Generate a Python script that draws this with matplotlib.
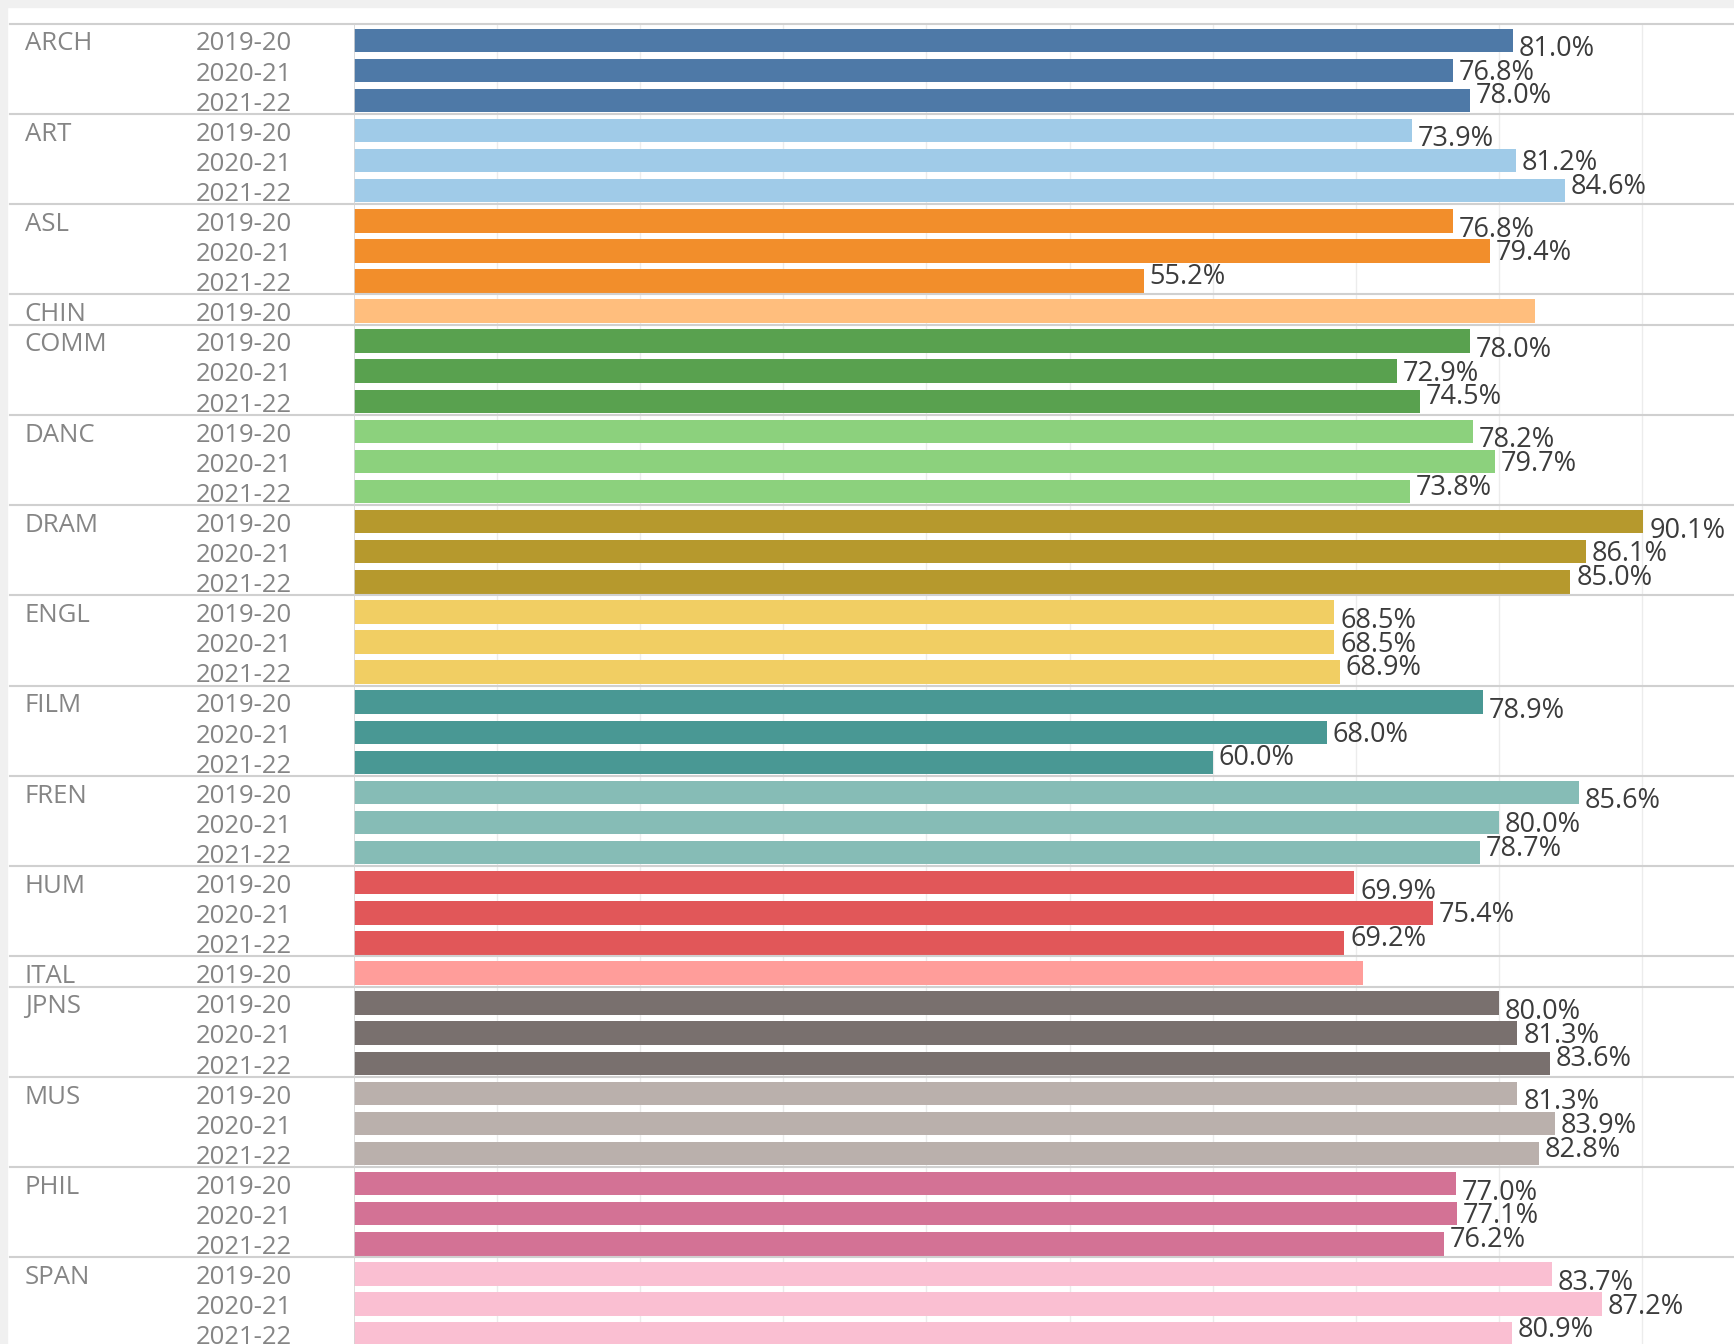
import matplotlib
matplotlib.use("Agg")
import matplotlib.pyplot as plt
from matplotlib.patches import Rectangle
from matplotlib.transforms import blended_transform_factory

subjects = ["ARCH", "ART", "ASL", "CHIN", "COMM", "DANC", "DRAM", "ENGL",
            "FILM", "FREN", "HUM", "ITAL", "JPNS", "MUS", "PHIL", "SPAN"]
years = ["2019-20", "2020-21", "2021-22"]

# pass rate (%) per year, in year order
arch = [81.0, 76.8, 78.0]
art = [73.9, 81.2, 84.6]
asl = [76.8, 79.4, 55.2]
chin = [82.5]
comm = [78.0, 72.9, 74.5]
danc = [78.2, 79.7, 73.8]
dram = [90.1, 86.1, 85.0]
engl = [68.5, 68.5, 68.9]
film = [78.9, 68.0, 60.0]
fren = [85.6, 80.0, 78.7]
hum = [69.9, 75.4, 69.2]
ital = [70.5]
jpns = [80.0, 81.3, 83.6]
mus = [81.3, 83.9, 82.8]
phil = [77.0, 77.1, 76.2]
span = [83.7, 87.2, 80.9]

rates = [arch, art, asl, chin, comm, danc, dram, engl,
         film, fren, hum, ital, jpns, mus, phil, span]

colors = ["#4e79a7", "#a0cbe8", "#f28e2b", "#ffbe7d", "#59a14f", "#8cd17d",
          "#b6992d", "#f1ce63", "#499894", "#86bcb6", "#e15759", "#ff9d9a",
          "#79706e", "#bab0ac", "#d37295", "#fabfd2"]


def main():
    plt.rcParams["font.family"] = ["Open Sans", "DejaVu Sans"]

    W, H = 1734, 1344
    fig = plt.figure(figsize=(W / 100, H / 100), dpi=100)
    fig.patches.append(Rectangle((0, 1 - 7 / H), 1, 7 / H, transform=fig.transFigure,
                                 color="#f0f0f0", zorder=0))
    fig.patches.append(Rectangle((0, 0), 7 / W, 1, transform=fig.transFigure,
                                 color="#f0f0f0", zorder=0))

    ax = fig.add_axes([354 / W, 0, 1 - 354 / W, 1 - 23.7 / H])
    hdr = blended_transform_factory(ax.transAxes, ax.transData)

    label_shift = [0.58, 0.37, 0.15]  # labels get spread out inside a group
    row = 0
    for name, vals, col in zip(subjects, rates, colors):
        ax.axhline(row - 0.5, xmin=-0.249, xmax=1, color="#d0d0d0", lw=1.5, clip_on=False)
        ax.text(-0.2385, row + 0.39, name, transform=hdr, fontsize=18.5,
                color="#858585", va="baseline")
        for k, v in enumerate(vals):
            ax.barh(row + 0.05, v, height=0.78, color=col, zorder=2)
            ax.text(-0.1145, row + 0.39, years[k], transform=hdr, fontsize=18.5,
                    color="#858585", va="baseline")
            # single-year subjects have no room for a label
            if len(vals) > 1:
                ax.text(v + 0.4, row + label_shift[k], f"{v:.1f}%", fontsize=19.5,
                        color="#3c3c3c", va="baseline", zorder=3)
            row += 1

    ax.axvline(0, color="#d4d4d4", lw=1.2)
    ax.set_xlim(0, 96.43)
    ax.set_ylim(43.38, -0.5)
    ax.set_xticks(range(10, 100, 10))
    ax.set_yticks([])
    ax.tick_params(axis="x", length=0, labelbottom=False)
    ax.grid(axis="x", color="#ececec", lw=1)
    ax.set_axisbelow(True)
    for s in ax.spines.values():
        s.set_visible(False)

    fig.savefig("out.png", dpi=100)


if __name__ == "__main__":
    main()
